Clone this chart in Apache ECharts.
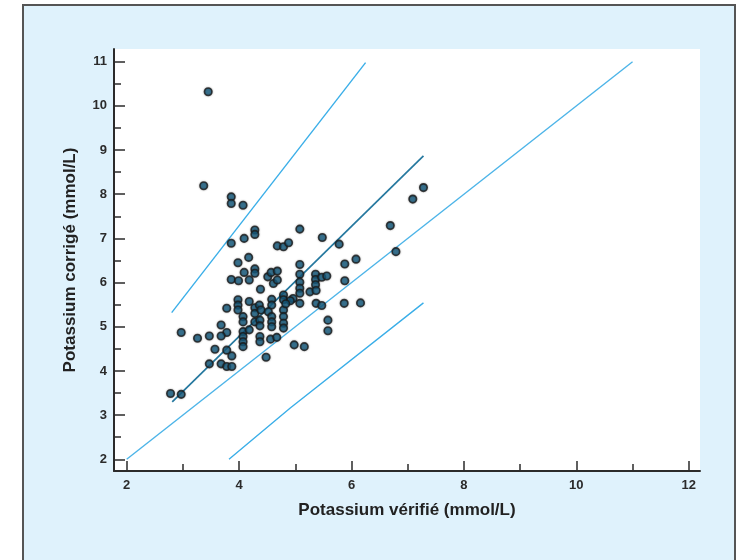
<!DOCTYPE html>
<html>
<head>
<meta charset="utf-8">
<title>Potassium</title>
<script src="https://cdn.jsdelivr.net/npm/echarts@6/dist/echarts.min.js"></script>
<style>
  html, body { margin: 0; padding: 0; background: #fff; }
  #chart { width: 744px; height: 560px; }
</style>
</head>
<body>
<div id="chart"></div>
<script>
// valeurs
const potassiumVerifie = [
  3.45, 3.37, 3.86, 3.86, 4.07, 4.28, 4.28, 4.09, 3.86, 5.08,
  4.68, 4.79, 4.88, 5.48, 5.78, 6.69, 7.09, 7.28, 6.79, 6.08,
  5.88, 5.88, 3.98, 4.17, 4.09, 4.28, 4.28, 3.86, 3.99, 4.18,
  4.51, 4.57, 4.68, 4.61, 4.68, 4.38, 5.08, 5.08, 5.08, 5.36,
  5.36, 5.36, 5.47, 5.56, 5.26, 5.37, 5.08, 5.08, 4.96, 5.87,
  6.16, 5.58, 5.58, 4.98, 5.16, 4.48, 3.78, 3.98, 3.98, 3.98,
  4.18, 4.07, 4.07, 4.28, 4.28, 4.28, 4.36, 4.58, 4.58, 4.79,
  4.79, 4.91, 4.39, 4.52, 4.79, 4.79, 4.79, 4.79, 4.58, 4.58,
  4.58, 4.37, 4.37, 4.07, 4.07, 4.07, 4.07, 4.18, 4.37, 4.37,
  4.56, 4.67, 3.68, 3.78, 3.68, 3.47, 3.26, 2.97, 3.57, 3.78,
  3.87, 3.47, 3.68, 3.78, 3.87, 2.78, 2.97, 5.08, 5.37, 5.47,
  4.83
];
const potassiumCorrige = [
  10.32, 8.19, 7.94, 7.79, 7.75, 7.19, 7.09, 7.00, 6.89, 7.21,
  6.83, 6.81, 6.90, 7.02, 6.87, 7.29, 7.89, 8.15, 6.70, 6.53,
  6.42, 6.04, 6.45, 6.57, 6.23, 6.31, 6.21, 6.07, 6.04, 6.06,
  6.13, 6.23, 6.26, 5.98, 6.06, 5.85, 6.41, 6.19, 6.01, 6.19,
  6.07, 5.95, 6.12, 6.15, 5.79, 5.82, 5.87, 5.76, 5.64, 5.53,
  5.54, 5.15, 4.91, 4.59, 4.55, 4.31, 5.42, 5.61, 5.49, 5.38,
  5.57, 5.23, 5.11, 5.43, 5.30, 5.11, 5.49, 5.62, 5.49, 5.72,
  5.61, 5.59, 5.38, 5.34, 5.38, 5.23, 5.08, 4.97, 5.23, 5.11,
  5.00, 5.15, 5.02, 4.89, 4.78, 4.66, 4.55, 4.93, 4.78, 4.66,
  4.72, 4.76, 5.04, 4.87, 4.79, 4.79, 4.74, 4.87, 4.49, 4.47,
  4.34, 4.16, 4.16, 4.10, 4.10, 3.49, 3.47, 5.53, 5.53, 5.48,
  5.52
];

const identityLine = [[2, 2], [11, 11]];
const regressionLine = [[2.81, 3.30], [7.28, 8.87]];
const upperLine = [[2.80, 5.32], [6.25, 10.98]];
const lowerLine = [[3.82, 2.0], [4.91, 3.16], [7.28, 5.54]];

const xMajorTicks = [2, 4, 6, 8, 10, 12];
const xMinorTicks = [3, 5, 7, 9, 11];
const yMajorTicks = [2, 3, 4, 5, 6, 7, 8, 9, 10, 11];
const yMinorTicks = [2.5, 3.5, 4.5, 5.5, 6.5, 7.5, 8.5, 9.5, 10.5];

const points = potassiumVerifie.map((x, i) => [x, potassiumCorrige[i]]);

const chart = echarts.init(document.getElementById('chart'));

const axisColor = '#2b2b2b';
const labelStyle = {
  color: '#2b2b2b',
  fontFamily: 'Liberation Sans, Arial, sans-serif',
  fontWeight: 'bold',
  fontSize: 13
};
const xRange = { min: 1.774, max: 12.2 };
const yRange = { min: 1.735, max: 11.287 };

const lineSeries = (data, color, width) => ({
  type: 'line',
  data: data,
  symbol: 'none',
  silent: true,
  animation: false,
  lineStyle: { color: color, width: width },
  z: 2
});

chart.setOption({
  animation: false,
  graphic: [
    {
      type: 'rect',
      shape: { x: 23, y: 5, width: 712, height: 570 },
      style: { fill: '#dff2fc', stroke: '#555', lineWidth: 2 },
      z: -10
    }
  ],
  grid: {
    left: 114,
    top: 49,
    width: 586,
    height: 422,
    show: true,
    backgroundColor: '#fff',
    borderWidth: 0
  },
  xAxis: [
    {
      type: 'value',
      ...xRange,
      name: 'Potassium vérifié (mmol/L)',
      nameLocation: 'middle',
      nameGap: 31,
      nameTextStyle: {
        color: '#222',
        fontFamily: 'Liberation Sans, Arial, sans-serif',
        fontWeight: 'bold',
        fontSize: 17
      },
      axisLine: { show: true, lineStyle: { color: axisColor, width: 2 } },
      axisTick: {
        show: true,
        inside: true,
        length: 10,
        customValues: xMajorTicks,
        lineStyle: { color: axisColor, width: 1.5 }
      },
      axisLabel: { customValues: xMajorTicks, margin: 8, ...labelStyle },
      splitLine: { show: false }
    },
    {
      type: 'value',
      ...xRange,
      position: 'bottom',
      axisLine: { show: false },
      axisTick: {
        show: true,
        inside: true,
        length: 7,
        customValues: xMinorTicks,
        lineStyle: { color: axisColor, width: 1.5 }
      },
      axisLabel: { show: false },
      splitLine: { show: false }
    }
  ],
  yAxis: [
    {
      type: 'value',
      ...yRange,
      name: 'Potassium corrigé (mmol/L)',
      nameLocation: 'middle',
      nameGap: 35,
      nameTextStyle: {
        color: '#222',
        fontFamily: 'Liberation Sans, Arial, sans-serif',
        fontWeight: 'bold',
        fontSize: 17
      },
      axisLine: { show: true, lineStyle: { color: axisColor, width: 2 } },
      axisTick: {
        show: true,
        inside: true,
        length: 11,
        customValues: yMajorTicks,
        lineStyle: { color: axisColor, width: 1.5 }
      },
      axisLabel: { customValues: yMajorTicks, margin: 7, ...labelStyle },
      splitLine: { show: false }
    },
    {
      type: 'value',
      ...yRange,
      position: 'left',
      axisLine: { show: false },
      axisTick: {
        show: true,
        inside: true,
        length: 7,
        customValues: yMinorTicks,
        lineStyle: { color: axisColor, width: 1.5 }
      },
      axisLabel: { show: false },
      splitLine: { show: false }
    }
  ],
  series: [
    lineSeries(identityLine, '#4cb4e8', 1.4),
    lineSeries(upperLine, '#3aaee8', 1.4),
    lineSeries(lowerLine, '#3aaee8', 1.4),
    lineSeries(regressionLine, '#25789f', 1.7),
    {
      type: 'scatter',
      data: points,
      symbol: 'circle',
      symbolSize: 7.5,
      itemStyle: {
        color: '#175e82',
        borderColor: '#1b1b1b',
        borderWidth: 1.6,
        shadowColor: 'rgba(0,0,0,0.35)',
        shadowBlur: 2
      },
      z: 3
    }
  ]
});
</script>
</body>
</html>
